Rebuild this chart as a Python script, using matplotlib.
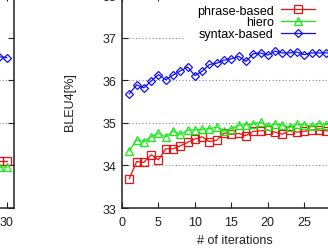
import matplotlib
matplotlib.use("Agg")
import matplotlib.pyplot as plt

plt.rcParams['font.family'] = ['Liberation Sans', 'DejaVu Sans']
plt.rcParams['font.size'] = 9

# right panel (fully visible part)
iterations = list(range(1, 31))
phrase = [33.69, 34.09, 34.07, 34.25, 34.13, 34.39, 34.39, 34.46, 34.54, 34.62,
          34.67, 34.56, 34.59, 34.76, 34.73, 34.75, 34.70, 34.80, 34.81, 34.83,
          34.78, 34.73, 34.83, 34.78, 34.80, 34.83, 34.83, 34.81, 34.82, 34.82]
hiero = [34.34, 34.60, 34.56, 34.67, 34.75, 34.67, 34.81, 34.73, 34.83, 34.83,
         34.85, 34.86, 34.90, 34.81, 34.86, 34.94, 34.95, 34.97, 35.01, 34.92,
         34.97, 34.95, 34.89, 34.97, 34.95, 34.92, 34.98, 34.96, 34.96, 34.96]
syntax = [35.68, 35.89, 35.82, 35.98, 36.13, 36.01, 36.12, 36.22, 36.31, 36.11,
          36.21, 36.37, 36.40, 36.47, 36.50, 36.56, 36.44, 36.62, 36.64, 36.59,
          36.68, 36.64, 36.64, 36.66, 36.60, 36.64, 36.64, 36.64, 36.64, 36.64]

# left panel, only its tail is in view
left_iters = [28, 29, 30]
left_phrase = [34.10, 34.10, 34.10]
left_hiero = [33.97, 33.96, 33.96]
left_syntax = [36.55, 36.55, 36.53]

xticks = [0, 5, 10, 15, 20, 25, 30]
yticks = [33, 34, 35, 36, 37, 38]

W, H = 328, 251
fig = plt.figure(figsize=(W / 100, H / 100), dpi=100)


def px_axes(left, right, bottom, top):
    return fig.add_axes([left / W, (H - bottom) / H, (right - left) / W, (bottom - top) / H])


def style(ax):
    ax.set_xlim(0, 31)
    ax.set_ylim(33, 38)
    ax.set_xticks(xticks)
    ax.set_yticks(yticks)
    ax.tick_params(direction='in', length=4, width=0.8, top=True, right=True,
                   labelsize=9, colors='#222222', pad=4)
    ax.tick_params(axis='x', pad=5.5)
    for s in ax.spines.values():
        s.set_linewidth(1.1)
        s.set_color('#222222')
    ax.set_axisbelow(True)
    ax.yaxis.grid(True, linestyle=(0, (1, 2)), color='#888888', linewidth=0.8)


def series(ax, x, p, h, s):
    ax.plot(x, p, color='#ee1111', lw=0.9, marker='s', ms=5.5, mfc='none', mew=0.9,
            label='phrase-based')
    ax.plot(x, h, color='#11ee11', lw=0.9, marker='^', ms=5.8, mfc='none', mew=0.9,
            label='hiero')
    ax.plot(x, s, color='#1111ee', lw=0.9, marker='D', ms=4.5, mfc='none', mew=0.9,
            label='syntax-based')


axL = px_axes(-212, 14, 209, -4)
style(axL)
series(axL, left_iters, left_phrase, left_hiero, left_syntax)
for gl, t in zip(axL.get_ygridlines(), yticks):
    if t == 37:
        gl.set_visible(False)

ax = px_axes(122, 348, 209, -4)
style(ax)
series(ax, iterations, phrase, hiero, syntax)
ax.set_xlabel('# of iterations', fontsize=9, color='#222222')
ax.set_ylabel('BLEU4[%]', fontsize=9, color='#222222')
ax.yaxis.set_label_coords(-0.205, 0.5)
ax.xaxis.set_label_coords(0.5, -0.12)

leg = ax.legend(loc='upper right', bbox_to_anchor=(1.017, 1.052), bbox_transform=fig.transFigure,
                markerfirst=False, frameon=True, fancybox=False, edgecolor='none',
                facecolor='white', framealpha=1, labelspacing=-0.02, handlelength=2.7,
                handletextpad=0.6, borderpad=1.0, fontsize=9)
leg.set_zorder(1)

fig.savefig('out.png', dpi=100)
